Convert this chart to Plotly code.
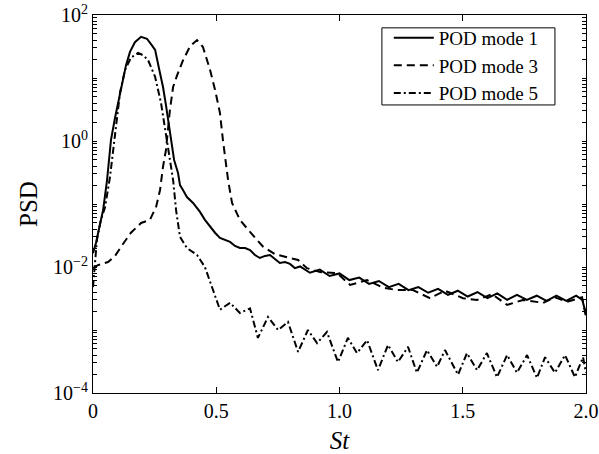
import plotly.graph_objects as go

# POD mode 1 (solid)
st_mode1 = [0.000, 0.012, 0.028, 0.041, 0.057, 0.073, 0.089, 0.114, 0.134, 0.150,
            0.170, 0.195, 0.219, 0.239, 0.252, 0.268, 0.284, 0.296, 0.312, 0.329,
            0.345, 0.353, 0.365, 0.381, 0.406, 0.434, 0.454, 0.475, 0.495, 0.515,
            0.536, 0.556, 0.576, 0.596, 0.617, 0.637, 0.657, 0.677, 0.698, 0.718,
            0.738, 0.758, 0.779, 0.799, 0.819,
            0.84, 0.88, 0.92, 0.96, 1.00, 1.04, 1.08, 1.12, 1.16, 1.20,
            1.24, 1.28, 1.32, 1.36, 1.40, 1.44, 1.48, 1.52, 1.56, 1.60,
            1.64, 1.68, 1.72, 1.76, 1.80, 1.84, 1.88, 1.92, 1.96, 1.985, 2.00]
psd_mode1 = [0.0166, 0.024, 0.047, 0.080, 0.24, 1.04, 2.3, 7.2, 16, 26,
             37, 45, 42, 33, 28, 14, 7.2, 3.7, 1.34, 0.50,
             0.31, 0.20, 0.167, 0.129, 0.104, 0.075, 0.056, 0.043, 0.035, 0.029,
             0.027, 0.025, 0.0216, 0.020, 0.020, 0.0186, 0.0155, 0.0139, 0.0150, 0.0155,
             0.0134, 0.0116, 0.0120, 0.0112, 0.0096,
             0.0102, 0.0081, 0.0091, 0.0072, 0.0079, 0.0062, 0.0068, 0.0054, 0.0060, 0.0048,
             0.0054, 0.0043, 0.0048, 0.0039, 0.0045, 0.0036, 0.0042, 0.0034, 0.0040, 0.0032,
             0.0038, 0.0030, 0.0036, 0.0030, 0.0035, 0.0029, 0.0035, 0.0029, 0.0035, 0.0030, 0.0018]

# POD mode 3 (dashed)
st_mode3 = [0.000, 0.020, 0.061, 0.089, 0.114, 0.154, 0.195, 0.231, 0.256, 0.272,
            0.284, 0.296, 0.312, 0.325, 0.341, 0.365, 0.394, 0.422, 0.446, 0.475,
            0.495, 0.515, 0.527, 0.548, 0.564, 0.596, 0.637, 0.690, 0.738, 0.787,
            0.832, 0.868, 0.921, 0.990, 1.043, 1.112, 1.176, 1.233, 1.298, 1.367,
            1.428, 1.501, 1.558, 1.619, 1.680, 1.744, 1.826, 1.874, 1.923, 1.984, 2.000]
psd_mode3 = [0.0096, 0.0107, 0.012, 0.0149, 0.021, 0.035, 0.050, 0.056, 0.090, 0.167,
             0.39, 0.72, 3.1, 7.2, 11, 19, 32, 40, 31, 13.4,
             6.5, 2.8, 1.04, 0.24, 0.104, 0.056, 0.036, 0.021, 0.016, 0.0144,
             0.0129, 0.0096, 0.0083, 0.0080, 0.0052, 0.0062, 0.0047, 0.0043, 0.0043, 0.0032,
             0.0042, 0.0032, 0.0030, 0.0037, 0.0025, 0.0030, 0.0027, 0.0033, 0.0028, 0.0033, 0.0016]

# POD mode 5 (dash-dot)
st_mode5 = [0.000, 0.016, 0.032, 0.049, 0.069, 0.081, 0.110, 0.130, 0.154, 0.183,
            0.203, 0.223, 0.252, 0.276, 0.296, 0.312, 0.325, 0.337, 0.353, 0.381,
            0.422, 0.454, 0.483, 0.515, 0.556, 0.596, 0.637, 0.669, 0.710, 0.751,
            0.791, 0.832, 0.872, 0.909, 0.949, 0.994, 1.034, 1.071, 1.112, 1.156,
            1.197, 1.237, 1.278, 1.314, 1.355, 1.396, 1.428, 1.481, 1.517, 1.558,
            1.598, 1.639, 1.680, 1.720, 1.761, 1.801, 1.834, 1.874, 1.915, 1.955,
            1.988, 2.000]
psd_mode5 = [0.0048, 0.027, 0.056, 0.089, 0.27, 0.72, 6.0, 13.4, 21, 25,
             23, 19.4, 10.4, 4.0, 1.34, 0.50, 0.24, 0.080, 0.030, 0.020,
             0.0155, 0.010, 0.0048, 0.0021, 0.0027, 0.00186, 0.0022, 0.00075, 0.00161, 0.0010,
             0.00134, 0.00045, 0.0010, 0.00062, 0.00093, 0.00031, 0.00075, 0.00043, 0.00069, 0.00023,
             0.00058, 0.00031, 0.00054, 0.00021, 0.00048, 0.00026, 0.00048, 0.000195, 0.00043, 0.00023,
             0.00043, 0.000178, 0.00040, 0.00021, 0.00040, 0.000174, 0.00037, 0.00021, 0.00040, 0.000178,
             0.00037, 0.00021]

x_ticks = [0, 0.5, 1.0, 1.5, 2.0]
x_ticktext = ["0", "0.5", "1.0", "1.5", "2.0"]
y_labels = {-4: "10<sup>\u22124</sup>", -2: "10<sup>\u22122</sup>",
            0: "10<sup>0</sup>", 2: "10<sup>2</sup>"}

# log axis ticks: 1..9 in every decade, only the even decades carry a label
y_ticks = []
y_ticktext = []
for e in range(-4, 3):
    for m in (range(1, 10) if e < 2 else [1]):
        y_ticks.append(float(f"{m}e{e}"))
        y_ticktext.append(y_labels.get(e, "") if m == 1 else "")

font_name = "Liberation Serif, Times New Roman, serif"

fig = go.Figure()
fig.add_trace(go.Scatter(x=st_mode1, y=psd_mode1, mode="lines", name="POD mode 1",
                         line=dict(color="black", width=2, dash="solid")))
fig.add_trace(go.Scatter(x=st_mode3, y=psd_mode3, mode="lines", name="POD mode 3",
                         line=dict(color="black", width=2, dash="8px,5px")))
fig.add_trace(go.Scatter(x=st_mode5, y=psd_mode5, mode="lines", name="POD mode 5",
                         line=dict(color="black", width=2, dash="7px,3px,2px,3px")))

axis_common = dict(showline=True, linecolor="black", linewidth=1, mirror="allticks",
                   ticks="inside", tickcolor="black", tickwidth=1, showgrid=False,
                   zeroline=False, automargin=False, ticklabeloverflow="allow",
                   tickfont=dict(family=font_name, size=20, color="black"))

fig.update_xaxes(range=[0, 2], tickmode="array", tickvals=x_ticks, ticktext=x_ticktext,
                 ticklen=6,
                 title=dict(text="<i>St</i>", font=dict(family=font_name, size=25, color="black"),
                            standoff=11),
                 **axis_common)
fig.update_yaxes(type="log", range=[-4, 2], tickmode="array", tickvals=y_ticks,
                 ticktext=y_ticktext, ticklen=4,
                 title=dict(text="PSD", font=dict(family=font_name, size=25, color="black"),
                            standoff=8),
                 **axis_common)

# legend frame drawn tight around the entries
fig.add_shape(type="rect", xref="paper", yref="paper",
              x0=0.586, x1=0.937, y0=0.762, y1=0.966,
              line=dict(color="black", width=1), fillcolor="rgba(0,0,0,0)", layer="above")

fig.update_layout(
    width=599, height=454,
    margin=dict(l=93, r=13, t=15, b=61),
    plot_bgcolor="white", paper_bgcolor="white",
    font=dict(family=font_name, size=19, color="black"),
    showlegend=True,
    legend=dict(x=0.600, y=0.990, xanchor="left", yanchor="top",
                bgcolor="rgba(0,0,0,0)", borderwidth=0,
                font=dict(family=font_name, size=19, color="black"),
                tracegroupgap=0, itemwidth=40),
)

fig.write_html("out.html", config={"displayModeBar": False},
               post_script="document.body.style.margin='0px';")
